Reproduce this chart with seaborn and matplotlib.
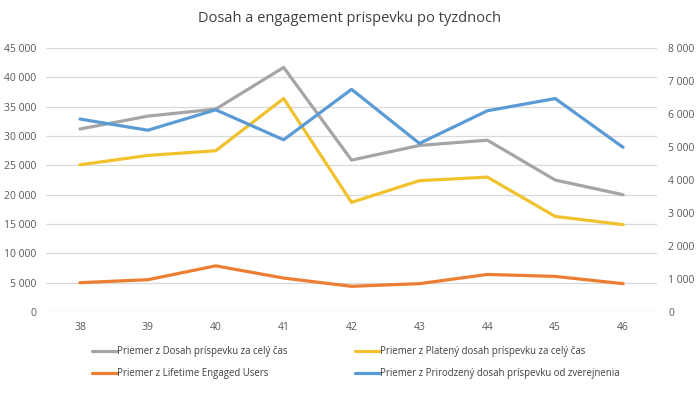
import pandas as pd
import numpy as np
import matplotlib.pyplot as plt
import seaborn as sns
from matplotlib.ticker import FuncFormatter

# --- DATA ---
weeks = [38, 39, 40, 41, 42, 43, 44, 45, 46]
dosah = [31200, 33400, 34600, 41700, 25900, 28400, 29300, 22500, 20000]
plateny = [25100, 26700, 27500, 36400, 18700, 22400, 23000, 16300, 14900]
engaged = [890, 980, 1400, 1030, 780, 860, 1140, 1080, 860]
prirodzeny = [5850, 5510, 6130, 5220, 6750, 5110, 6100, 6470, 4990]

labels = {
    'dosah': 'Priemer z Dosah príspevku za celý čas',
    'plateny': 'Priemer z Platený dosah príspevku za celý čas',
    'engaged': 'Priemer z Lifetime Engaged Users',
    'prirodzeny': 'Priemer z Prirodzený dosah príspevku od zverejnenia',
}
colors = {
    'dosah': '#a5a5a5',
    'plateny': '#f2c12e',
    'engaged': '#ed7d31',
    'prirodzeny': '#5b9bd5',
}

sns.set_style("white")
plt.rcParams['font.family'] = ['Open Sans', 'DejaVu Sans']

df = pd.DataFrame({'week': weeks, 'dosah': dosah, 'plateny': plateny,
                   'engaged': engaged, 'prirodzeny': prirodzeny})

fig = plt.figure(figsize=(7, 3.94), dpi=100)
ax = fig.add_axes([0.0657, 0.208, 0.873, 0.670])
ax2 = ax.twinx()

lw = 2.3
sns.lineplot(data=df, x='week', y='dosah', ax=ax, color=colors['dosah'], lw=lw, label=labels['dosah'], legend=False)
sns.lineplot(data=df, x='week', y='plateny', ax=ax, color=colors['plateny'], lw=lw, label=labels['plateny'], legend=False)
sns.lineplot(data=df, x='week', y='engaged', ax=ax2, color=colors['engaged'], lw=lw, label=labels['engaged'], legend=False)
sns.lineplot(data=df, x='week', y='prirodzeny', ax=ax2, color=colors['prirodzeny'], lw=lw, label=labels['prirodzeny'], legend=False)

fmt = FuncFormatter(lambda v, p: f"{int(v):,}".replace(",", " "))
ax.set_ylim(0, 45000)
ax.set_yticks(np.arange(0, 45001, 5000))
ax.yaxis.set_major_formatter(fmt)
ax2.set_ylim(0, 8000)
ax2.set_yticks(np.arange(0, 8001, 1000))
ax2.yaxis.set_major_formatter(fmt)

ax.set_xlim(37.5, 46.5)
ax.set_xticks(weeks)
ax.set_xlabel('')
ax.set_ylabel('')
ax2.set_ylabel('')

ax.grid(axis='y', color='#d9d9d9', lw=0.9)
ax.set_axisbelow(True)
for a in (ax, ax2):
    for s in a.spines.values():
        s.set_visible(False)
    a.tick_params(length=0, labelsize=7.5, colors='#595959')
ax.tick_params(axis='y', pad=7)
ax.tick_params(axis='x', pad=7)
ax2.tick_params(axis='y', pad=8)

fig.text(0.5, 0.953, 'Dosah a engagement prispevku po tyzdnoch', fontsize=10.5,
         color='#404040', ha='center', va='center')

h1, l1 = ax.get_legend_handles_labels()
h2, l2 = ax2.get_legend_handles_labels()
# two single-column legends, placed like the original
leg_kw = dict(loc='center left', frameon=False, fontsize=6.9, handlelength=2.6,
              handletextpad=0.05, labelcolor='#404040', labelspacing=1.15, borderpad=0)
fig.legend([h1[0], h2[0]], [l1[0], l2[0]], bbox_to_anchor=(87 / 700, 0.080), **leg_kw)
fig.legend([h1[1], h2[1]], [l1[1], l2[1]], bbox_to_anchor=(350 / 700, 0.080), **leg_kw)

plt.savefig('out.png', dpi=100)
